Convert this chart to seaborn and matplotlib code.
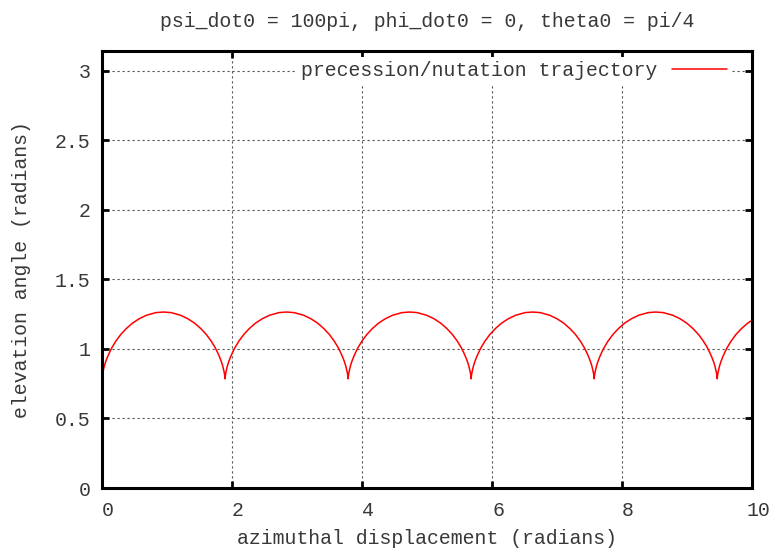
import numpy as np
import pandas as pd
import matplotlib
matplotlib.use("Agg")
import matplotlib.pyplot as plt
import matplotlib.transforms as mtransforms
import seaborn as sns

# Hình dạng một cung: độ lệch phương vị so với điểm nhọn, góc nâng
arch_dx = [0.0, 0.001, 0.011, 0.035, 0.055, 0.081, 0.113, 0.151, 0.213, 0.287,
           0.373, 0.468, 0.573, 0.685, 0.831, 0.947, 1.062, 1.208, 1.320, 1.425,
           1.520, 1.606, 1.680, 1.742, 1.780, 1.812, 1.838, 1.858, 1.882, 1.892]
arch_theta = [0.785, 0.796, 0.827, 0.876, 0.906, 0.938, 0.972, 1.008, 1.056, 1.103,
              1.146, 1.185, 1.217, 1.242, 1.261, 1.265, 1.261, 1.242, 1.217, 1.185,
              1.146, 1.103, 1.056, 1.008, 0.972, 0.938, 0.906, 0.876, 0.827, 0.796]
# vị trí các điểm nhọn trên trục phương vị
cusps_x = [0.0, 1.893, 3.786, 5.679, 7.572, 9.465]

x_ticks = [0, 2, 4, 6, 8, 10]
y_ticks = [0, 0.5, 1, 1.5, 2, 2.5, 3]
y_tick_labels = ["0", "0.5", "1", "1.5", "2", "2.5", "3"]

phi = np.concatenate([np.array(arch_dx) + c for c in cusps_x])
theta = np.concatenate([arch_theta for c in cusps_x])
df = pd.DataFrame({"phi": phi, "theta": theta})
df = df[df["phi"] <= 10.6]

sns.set_theme(style="ticks")
plt.rcParams["font.family"] = ["Liberation Mono", "DejaVu Sans Mono"]

fs = 14.3
txt_col = "#383838"

fig = plt.figure(figsize=(7.71, 5.49), dpi=100)
ax = fig.add_axes([102 / 771, 1 - 488 / 549, 650 / 771, 437 / 549])

sns.lineplot(data=df, x="phi", y="theta", sort=False, estimator=None,
             color="#ff0000", linewidth=1.1, label="precession/nutation trajectory", ax=ax)

ax.set_xlim(0, 10)
ax.set_ylim(0, np.pi)
ax.set_xticks(x_ticks)
ax.set_xticklabels([str(t) for t in x_ticks])
ax.set_yticks(y_ticks)
ax.set_yticklabels(y_tick_labels)

ax.grid(True, color="#555555", linestyle=(0, (2, 2.5)), linewidth=0.8)
ax.set_axisbelow(True)
for s in ax.spines.values():
    s.set_linewidth(2.2)
    s.set_color("black")
    s.set_visible(True)

ax.tick_params(direction="in", length=5, width=2, top=True, right=True,
               labelsize=fs, colors="black")
ax.tick_params(axis="x", pad=9)
ax.tick_params(axis="y", pad=8.5)
# nhãn trục x trong ảnh gốc lệch sang phải vài pixel
shift = mtransforms.ScaledTranslation(6 / 100, 0, fig.dpi_scale_trans)
for lab in ax.get_xticklabels():
    lab.set_transform(lab.get_transform() + shift)
for lab in ax.get_xticklabels() + ax.get_yticklabels():
    lab.set_color(txt_col)

ax.set_xlabel("azimuthal displacement (radians)", fontsize=fs, color=txt_col, labelpad=6.5)
ax.set_ylabel("elevation angle (radians)", fontsize=fs, color=txt_col, labelpad=17)
ax.set_title("psi_dot0 = 100pi, phi_dot0 = 0, theta0 = pi/4", fontsize=fs,
             color=txt_col, pad=17.5)

leg = ax.legend(loc="upper right", bbox_to_anchor=(0.968, 0.986), markerfirst=False,
                frameon=True, fancybox=False, framealpha=1, facecolor="white",
                edgecolor="none", fontsize=fs, handlelength=2.8, handletextpad=0.7,
                borderpad=0.2, borderaxespad=0)
for t in leg.get_texts():
    t.set_color(txt_col)

fig.savefig("out.png", dpi=100)
